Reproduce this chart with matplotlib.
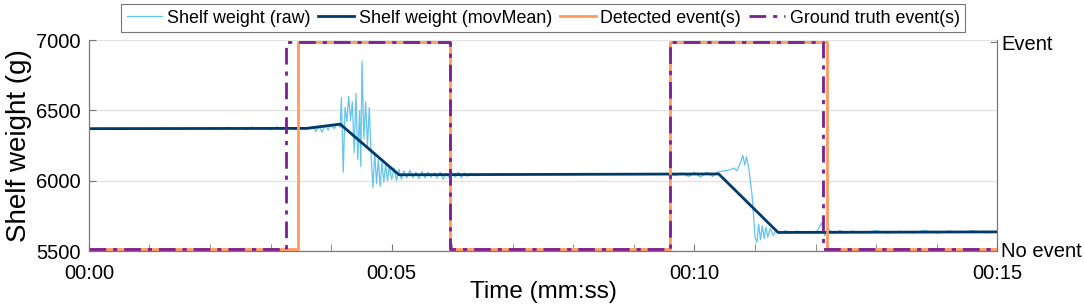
import matplotlib
matplotlib.use("Agg")
from matplotlib import pyplot as plt
from matplotlib.ticker import MultipleLocator

# raw shelf weight readings (time s, weight g)
raw_points = [
    (0.0, 6370), (0.25, 6372), (0.5, 6369), (0.75, 6371), (1.0, 6370),
    (1.25, 6373), (1.5, 6368), (1.75, 6372), (2.0, 6370), (2.1, 6378),
    (2.2, 6365), (2.3, 6380), (2.4, 6366), (2.5, 6377), (2.6, 6364),
    (2.7, 6381), (2.8, 6367), (2.9, 6379), (3.0, 6362), (3.1, 6382),
    (3.2, 6366), (3.3, 6379), (3.4, 6363), (3.5, 6378), (3.6, 6372),
    (3.7, 6385), (3.75, 6350), (3.8, 6392), (3.85, 6345), (3.9, 6395),
    (3.95, 6360), (4.0, 6400), (4.05, 6370), (4.1, 6405), (4.15, 6380),
    (4.17, 6590), (4.2, 6060), (4.23, 6520), (4.26, 6420), (4.29, 6600),
    (4.32, 6430), (4.35, 6560), (4.38, 6200), (4.41, 6620), (4.44, 6150),
    (4.47, 6500), (4.49, 6100), (4.51, 6850), (4.54, 6300), (4.57, 6560),
    (4.6, 6250), (4.63, 6520), (4.66, 6180), (4.69, 5950), (4.72, 6200),
    (4.75, 5980), (4.78, 6150), (4.81, 5960), (4.84, 6130), (4.87, 5990),
    (4.9, 6120), (4.93, 6000), (4.96, 6100), (5.0, 6010), (5.04, 6090),
    (5.08, 6000), (5.12, 6080), (5.16, 6010), (5.2, 6070), (5.25, 6020),
    (5.3, 6075), (5.35, 6020), (5.4, 6060), (5.45, 6015), (5.5, 6065),
    (5.55, 6020), (5.6, 6060), (5.65, 6025), (5.7, 6055), (5.75, 6020),
    (5.8, 6060), (5.85, 6010), (5.9, 6050), (5.95, 6020), (6.0, 6055),
    (6.05, 6025), (6.1, 6060), (6.15, 6020), (6.2, 6055), (6.25, 6030),
    (6.3, 6050), (6.4, 6035), (6.5, 6050), (6.6, 6040), (6.8, 6048),
    (7.0, 6042), (7.5, 6046), (8.0, 6043), (8.5, 6047), (9.0, 6044),
    (9.5, 6046), (9.7, 6040), (9.8, 6055), (9.9, 6030), (10.0, 6058),
    (10.1, 6025), (10.2, 6060), (10.3, 6030), (10.4, 6065), (10.5, 6070),
    (10.6, 6080), (10.65, 6090), (10.7, 6070), (10.75, 6120), (10.8, 6180),
    (10.83, 6110), (10.86, 6170), (10.9, 6080), (10.95, 5900), (11.0, 5600),
    (11.03, 5560), (11.06, 5690), (11.09, 5580), (11.12, 5680), (11.15, 5590),
    (11.18, 5670), (11.21, 5600), (11.25, 5660), (11.3, 5610), (11.35, 5650),
    (11.4, 5625), (11.5, 5645), (11.6, 5630), (11.7, 5642), (11.8, 5630),
    (11.9, 5640), (12.0, 5628), (12.05, 5660), (12.1, 5700), (12.15, 5610),
    (12.2, 5660), (12.3, 5625), (12.4, 5645), (12.5, 5628), (12.6, 5642),
    (12.8, 5630), (13.0, 5645), (13.2, 5628), (13.4, 5640), (13.6, 5630),
    (13.8, 5646), (14.0, 5628), (14.2, 5642), (14.4, 5632), (14.6, 5645),
    (14.8, 5630), (15.0, 5635),
]
raw_t = [p[0] for p in raw_points]
raw_w = [p[1] for p in raw_points]

# moving mean breakpoints
mov_t = [0.0, 3.6, 4.15, 5.12, 10.4, 11.38, 15.0]
mov_w = [6370, 6372, 6402, 6042, 6048, 5632, 5636]

# events (start, end) in seconds
detected = [(3.45, 5.96), (9.6, 12.19)]
truth = [(3.25, 5.96), (9.6, 12.13)]


def steps(events):
    t, v = [0.0], [0]
    for start, end in events:
        t += [start, start, end, end]
        v += [0, 1, 1, 0]
    t.append(15.0)
    v.append(0)
    return t, v


plt.rcParams["font.family"] = ["Liberation Sans", "DejaVu Sans"]
fig = plt.figure(figsize=(10.84, 3.08), dpi=100)
ax = fig.add_axes([0.082, 0.185, 0.838, 0.685])
ax2 = ax.twinx()

l1, = ax.plot(raw_t, raw_w, color="#62c4ef", lw=0.9, label="Shelf weight (raw)")
l2, = ax.plot(mov_t, mov_w, color="#003a66", lw=2, label="Shelf weight (movMean)")
dt, dv = steps(detected)
gt, gv = steps(truth)
l3, = ax2.plot(dt, dv, color="#ff9a5c", lw=2, label="Detected event(s)")
l4, = ax2.plot(gt, gv, color="#7a1f96", lw=2, ls=(0, (6, 2.5, 1.5, 2.5)),
               label="Ground truth event(s)")

ax.set_xlim(0, 15)
ax.set_ylim(5500, 7000)
ax.set_yticks([5500, 6000, 6500, 7000])
ax2.set_ylim(-0.008, 1.01)
ax2.set_yticks([0, 1])
ax2.set_yticklabels(["No event", "Event"])

ax.set_xticks([0, 5, 10, 15])
ax.set_xticklabels(["00:00", "00:05", "00:10", "00:15"])
ax.xaxis.set_minor_locator(MultipleLocator(1))
ax.grid(axis="y", color="#e3e3e3", lw=1)
ax.set_axisbelow(True)

for a in (ax, ax2):
    a.spines["top"].set_visible(False)
    for s in a.spines.values():
        s.set_color("#777777")
    a.tick_params(direction="in", color="#777777", labelsize=14.5, length=5)
    a.tick_params(which="minor", direction="in", color="#777777", length=5)
ax.tick_params(axis="x", pad=9)
ax.tick_params(axis="y", pad=6)
ax2.tick_params(axis="y", pad=3)

ax.set_xlabel("Time (mm:ss)", fontsize=17.5, labelpad=-1)
ax.set_ylabel("Shelf weight (g)", fontsize=20, labelpad=3)

leg = ax.legend(handles=[l1, l2, l3, l4], loc="lower center",
                bbox_to_anchor=(0.5, 1.038), ncol=4, fontsize=12.9,
                frameon=True, fancybox=False, borderpad=0.3,
                handlelength=2.0, handletextpad=0.25, columnspacing=0.45,
                borderaxespad=0)
leg.get_frame().set_edgecolor("#555555")
leg.get_frame().set_linewidth(0.8)

fig.savefig("out.png", dpi=100)
